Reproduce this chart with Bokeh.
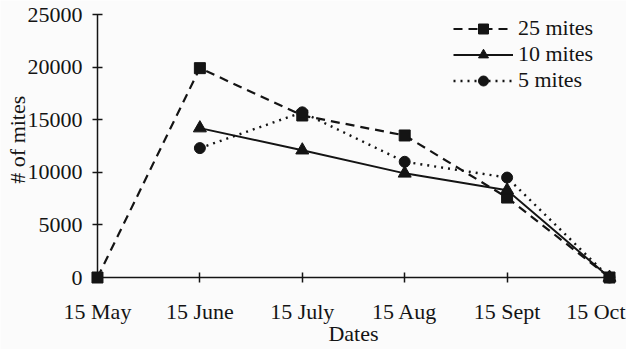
import math
from bokeh.plotting import figure
from bokeh.models import Range1d, Label, Legend, LegendItem, FixedTicker
from bokeh.embed import file_html
from bokeh.resources import INLINE

dates = ["15 May", "15 June", "15 July", "15 Aug", "15 Sept", "15 Oct"]
x_25 = [0, 1, 2, 3, 4, 5]
mites_25 = [0, 19900, 15400, 13500, 7600, 0]
x_10 = [1, 2, 3, 4, 5]
mites_10 = [14200, 12100, 9900, 8300, 0]
x_5 = [1, 2, 3, 4, 5]
mites_5 = [12300, 15700, 11000, 9500, 0]
y_ticks = [0, 5000, 10000, 15000, 20000, 25000]

FONT = "Liberation Serif"
FS = "22px"
INK = "#141414"
W, H = 626, 349

# frame spans the whole canvas; axes sit at data zero
p = figure(width=W, height=H, output_backend="svg", toolbar_location=None,
           x_range=Range1d(-0.947, 5.166), y_range=Range1d(-6844, 26331),
           min_border=0)
p.background_fill_color = "#fbfbfb"
p.border_fill_color = "#fbfbfb"
p.outline_line_color = None
p.grid.visible = False

xa = p.xaxis[0]
ya = p.yaxis[0]
xa.fixed_location = 0
ya.fixed_location = 0
xa.bounds = (0, len(dates) - 1)
ya.bounds = (y_ticks[0], y_ticks[-1])
xa.ticker = FixedTicker(ticks=list(range(len(dates))))
xa.major_label_overrides = {i: (d if i < len(dates) - 1 else "") for i, d in enumerate(dates)}
ya.ticker = FixedTicker(ticks=y_ticks)
for ax in (xa, ya):
    ax.axis_line_color = INK
    ax.axis_line_width = 1.5
    ax.major_tick_line_color = INK
    ax.major_tick_line_width = 1.5
    ax.major_tick_in = 5
    ax.major_tick_out = 5
    ax.minor_tick_line_color = None
    ax.major_label_text_font = FONT
    ax.major_label_text_font_size = FS
    ax.major_label_text_color = INK
    ax.axis_label_text_font = FONT
    ax.axis_label_text_font_size = FS
    ax.axis_label_text_font_style = "normal"
    ax.axis_label_text_color = INK
xa.major_label_standoff = 16
ya.major_label_standoff = 10
xa.axis_label = "Dates"
xa.axis_label_standoff = -6

# y-axis title, centred a little above the axis middle as in the original
ytitle = Label(x=-0.785, y=13100, text="# of mites", angle=math.pi / 2,
               text_font=FONT, text_font_size=FS, text_color=INK,
               text_align="center", text_baseline="middle")
p.add_layout(ytitle)

last = Label(x=len(dates) - 1, y=0, text=dates[-1], text_font=FONT, text_font_size=FS,
             text_color=INK, text_align="right", text_baseline="top", x_offset=16, y_offset=-21)
p.add_layout(last)

l25 = p.line(x_25, mites_25, line_color=INK, line_width=2.2, line_dash="9 6")
m25 = p.scatter(x_25, mites_25, marker="square", size=11, fill_color=INK, line_color=INK)
l10 = p.line(x_10, mites_10, line_color=INK, line_width=2.0)
m10 = p.scatter(x_10, mites_10, marker="triangle", size=13, fill_color=INK, line_color=INK)
l5 = p.line(x_5, mites_5, line_color=INK, line_width=2.4, line_dash="2 5")
m5 = p.scatter(x_5, mites_5, marker="circle", size=11, fill_color=INK, line_color=INK)

legend = Legend(items=[
    LegendItem(label="25 mites", renderers=[l25, m25]),
    LegendItem(label="10 mites", renderers=[l10, m10]),
    LegendItem(label="5 mites", renderers=[l5, m5]),
], location=(453, 256))
legend.label_text_font = FONT
legend.label_text_font_size = FS
legend.label_text_color = INK
legend.glyph_width = 60
legend.glyph_height = 25
legend.label_height = 25
legend.label_standoff = 5
legend.spacing = 0
legend.padding = 0
legend.margin = 0
legend.border_line_color = None
legend.background_fill_alpha = 0
p.add_layout(legend)

open("out.html", "w").write(file_html(p, INLINE))
